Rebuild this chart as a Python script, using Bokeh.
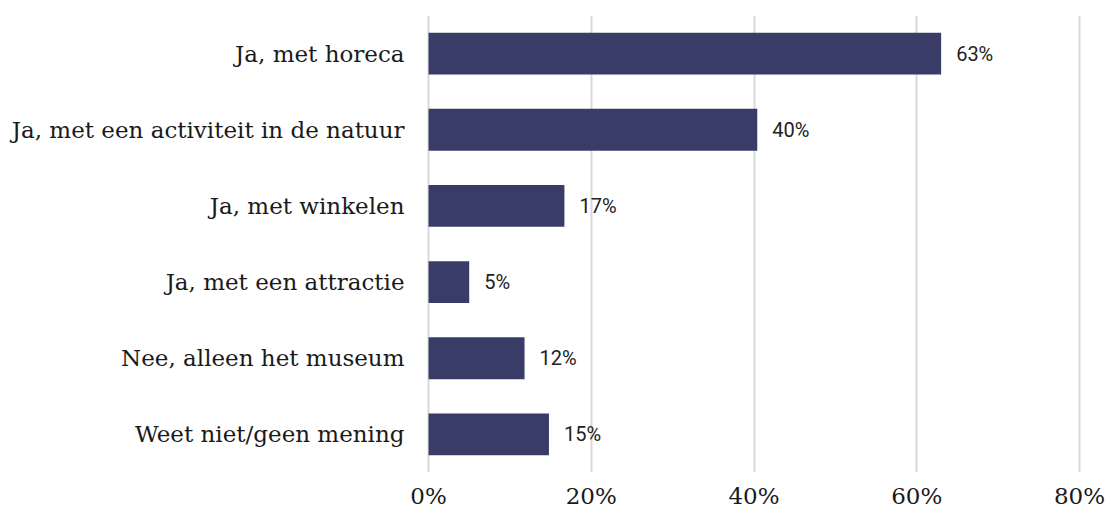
from bokeh.plotting import figure
from bokeh.models import ColumnDataSource, FactorRange, Range1d, FixedTicker, CustomJSTickFormatter
from bokeh.core.properties import value
from bokeh.embed import file_html
from bokeh.resources import INLINE

categories = [
    "Ja, met horeca",
    "Ja, met een activiteit in de natuur",
    "Ja, met winkelen",
    "Ja, met een attractie",
    "Nee, alleen het museum",
    "Weet niet/geen mening",
]
values = [63.0, 40.4, 16.7, 5.0, 11.8, 14.8]
labels = ["63%", "40%", "17%", "5%", "12%", "15%"]
x_ticks = [0, 20, 40, 60, 80]

src = ColumnDataSource(dict(cat=categories, val=values, lab=labels))

p = figure(
    width=1105, height=512,
    y_range=FactorRange(factors=list(reversed(categories)), range_padding=0),
    x_range=Range1d(-0.25, 80.25),
    output_backend="svg", toolbar_location=None,
    min_border_left=426, min_border_right=24, min_border_top=15, min_border_bottom=40,
)
p.outline_line_color = None
p.background_fill_color = "white"
p.border_fill_color = "white"

p.hbar(y="cat", right="val", left=0, height=0.55, source=src,
       fill_color="#383c66", line_color=None)

p.text(x="val", y="cat", text="lab", source=src, x_offset=15,
       text_align="left", text_baseline="middle",
       text_font=value("Roboto"), text_font_size="20px", text_color="#222222")

p.ygrid.grid_line_color = None
p.xgrid.grid_line_color = "#d9d9d9"
p.xgrid.grid_line_width = 2
p.xaxis.ticker = FixedTicker(ticks=x_ticks)
p.xaxis.formatter = CustomJSTickFormatter(code="return tick + '%';")

for ax in (p.xaxis, p.yaxis):
    ax.axis_line_color = None
    ax.major_tick_line_color = None
    ax.minor_tick_line_color = None
    ax.major_label_text_font = "DejaVu Serif"
    ax.major_label_text_color = "#1a1a1a"

p.xaxis.major_label_text_font_size = "23px"
p.xaxis.major_label_standoff = 4
p.yaxis.major_label_text_font_size = "23px"
p.yaxis.major_label_standoff = 16

open("out.html", "w").write(file_html(p, INLINE))
